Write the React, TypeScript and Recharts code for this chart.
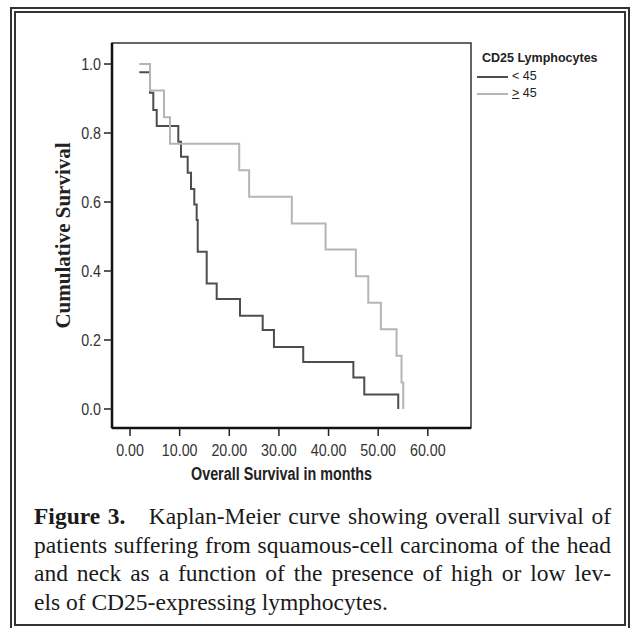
import { Legend, Line, LineChart, ReferenceArea, XAxis, YAxis } from 'recharts';

// Kaplan-Meier steps (months, cumulative survival)
const lowMonths = [1.87, 4.03, 4.69, 5.38, 9.73, 10.27, 11.62, 12.29, 12.95, 13.43, 13.64, 15.45, 17.46, 22.16, 26.73, 29.0, 34.9, 45.0, 47.2, 54.04];
const lowSurvival = [0.976, 0.917, 0.867, 0.82, 0.775, 0.731, 0.685, 0.638, 0.593, 0.548, 0.456, 0.364, 0.319, 0.27, 0.229, 0.18, 0.136, 0.091, 0.042, 0];

const highMonths = [1.87, 4.03, 6.85, 8.06, 22.0, 24.0, 32.6, 39.4, 45.5, 48.0, 50.55, 53.7, 54.7, 55.05];
const highSurvival = [1.0, 0.923, 0.846, 0.769, 0.692, 0.615, 0.538, 0.462, 0.385, 0.308, 0.231, 0.154, 0.077, 0];

const groupNames = ['< 45', '≥ 45'];
const xTicks = [0, 10, 20, 30, 40, 50, 60];
const yTicks = [0, 0.2, 0.4, 0.6, 0.8, 1.0];
const xDomain = [-3.63, 68.7];
const yDomain = [-0.0551, 1.0609];

const lowData = lowMonths.map((m, i) => ({ m, s: lowSurvival[i] }));
const highData = highMonths.map((m, i) => ({ m, s: highSurvival[i] }));

const SANS = "'Liberation Sans', Arial, sans-serif";
const SERIF = "'Liberation Serif', 'Times New Roman', serif";
const NARROW = 0.84; // the figure uses a condensed Helvetica

// eslint-disable-next-line @typescript-eslint/no-explicit-any
function XTick({ x, y, payload }: any) {
  return (
    <g transform={`translate(${x},${y})`}>
      <text transform={`scale(${NARROW},1)`} textAnchor="middle" dy="0.71em" fontSize={17} fill="#333" fontFamily={SANS}>
        {Number(payload.value).toFixed(2)}
      </text>
    </g>
  );
}

// eslint-disable-next-line @typescript-eslint/no-explicit-any
function YTick({ x, y, payload }: any) {
  return (
    <g transform={`translate(${x},${y})`}>
      <text transform={`scale(${NARROW},1)`} textAnchor="end" dy="0.355em" fontSize={17} fill="#333" fontFamily={SANS}>
        {Number(payload.value).toFixed(1)}
      </text>
    </g>
  );
}

// eslint-disable-next-line @typescript-eslint/no-explicit-any
function YLabel(props: any) {
  const vb = props.viewBox;
  const cx = vb.x + 21;
  const cy = vb.y + vb.height / 2;
  return (
    <text
      x={cx}
      y={cy}
      transform={`rotate(-90 ${cx} ${cy})`}
      textAnchor="middle"
      dominantBaseline="central"
      fontFamily={SERIF}
      fontWeight={700}
      fontSize={21}
      fill="#222"
    >
      Cumulative Survival
    </text>
  );
}

// eslint-disable-next-line @typescript-eslint/no-explicit-any
function XLabel(props: any) {
  const vb = props.viewBox;
  return (
    <g transform={`translate(${vb.x + vb.width / 2 - 10},${vb.y + 52})`}>
      <text transform={`scale(0.82,1)`} textAnchor="middle" fontFamily={SANS} fontWeight={700} fontSize={17.5} fill="#222">
        Overall Survival in months
      </text>
    </g>
  );
}

// eslint-disable-next-line @typescript-eslint/no-explicit-any
function KMLegend({ payload }: { payload?: any[] }) {
  return (
    <div style={{ fontFamily: SANS, color: '#222', fontSize: 12.5, lineHeight: '17px' }}>
      <div style={{ fontWeight: 700, fontSize: 12.5, marginLeft: 5, marginBottom: 1 }}>CD25 Lymphocytes</div>
      {(payload ?? []).map((p) => {
        const name = String(p.value);
        return (
          <div key={name} style={{ display: 'flex', alignItems: 'center' }}>
            <span style={{ width: 31, borderTop: `2px solid ${p.color}`, marginRight: 4 }} />
            <span>
              {name.startsWith('≥') ? (
                <>
                  <span style={{ textDecoration: 'underline' }}>&gt;</span>
                  {name.slice(1)}
                </>
              ) : (
                name
              )}
            </span>
          </div>
        );
      })}
    </div>
  );
}

export default function App() {
  return (
    <div
      style={{
        position: 'absolute',
        left: 0,
        top: 0,
        width: 631,
        height: 628,
        background: '#fff',
        overflow: 'hidden',
      }}
    >
      <div
        style={{
          position: 'absolute',
          left: 10,
          top: 7,
          width: 620,
          height: 623,
          boxSizing: 'border-box',
          border: '6px double #333',
        }}
      />
      <div style={{ position: 'absolute', left: 0, top: 0 }}>
        <LineChart width={631} height={500} margin={{ top: 43, right: 160, left: 42, bottom: 12 }}>
          <XAxis
            dataKey="m"
            type="number"
            domain={xDomain}
            ticks={xTicks}
            allowDataOverflow
            tick={<XTick />}
            tickSize={8}
            tickMargin={8}
            tickLine={{ stroke: '#222', strokeWidth: 1.5 }}
            axisLine={{ stroke: '#111', strokeWidth: 2.5 }}
            height={60}
            label={<XLabel />}
          />
          <YAxis
            type="number"
            domain={yDomain}
            ticks={yTicks}
            allowDataOverflow
            tick={<YTick />}
            tickSize={8}
            tickMargin={3}
            tickLine={{ stroke: '#222', strokeWidth: 1.5 }}
            axisLine={{ stroke: '#111', strokeWidth: 2.5 }}
            width={70}
            label={<YLabel />}
          />
          <ReferenceArea
            x1={xDomain[0]}
            x2={xDomain[1]}
            y1={yDomain[0]}
            y2={yDomain[1]}
            fill="none"
            fillOpacity={0}
            stroke="#333"
            strokeWidth={1.5}
            ifOverflow="visible"
          />
          <Legend
            layout="vertical"
            align="center"
            verticalAlign="middle"
            wrapperStyle={{ left: 477, top: 50, width: 150 }}
            content={<KMLegend />}
          />
          <Line
            data={lowData}
            dataKey="s"
            name={groupNames[0]}
            type="stepAfter"
            stroke="#4d4d4d"
            strokeWidth={2}
            dot={false}
            isAnimationActive={false}
          />
          <Line
            data={highData}
            dataKey="s"
            name={groupNames[1]}
            type="stepAfter"
            stroke="#b5b5b5"
            strokeWidth={2}
            dot={false}
            isAnimationActive={false}
          />
        </LineChart>
      </div>
      <div
        style={{
          position: 'absolute',
          left: 34,
          top: 502,
          width: 577,
          fontFamily: SERIF,
          fontSize: 23.5,
          lineHeight: '28.5px',
          color: '#1a1a1a',
          textAlign: 'justify',
        }}
      >
        <div style={{ textAlignLast: 'justify' }}>
          <b>Figure 3.</b>{'\u2003'}Kaplan-Meier curve showing overall survival of
        </div>
        <div style={{ textAlignLast: 'justify' }}>
          patients suffering from squamous-cell carcinoma of the head
        </div>
        <div style={{ textAlignLast: 'justify' }}>
          and neck as a function of the presence of high or low lev-
        </div>
        <div>els of CD25-expressing lymphocytes.</div>
      </div>
    </div>
  );
}
